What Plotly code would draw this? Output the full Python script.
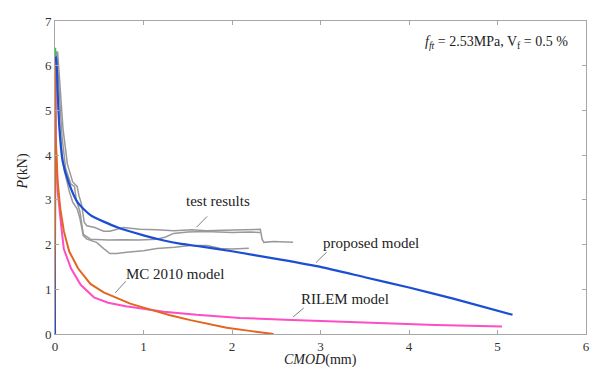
import plotly.graph_objects as go

# ---- data ----
proposed_x = [0.0, 0.0, 0.01, 0.03, 0.05, 0.086, 0.16, 0.26, 0.40, 0.71, 1.01, 1.23, 1.41, 1.64, 2.0, 2.5, 3.0, 3.5, 4.0, 4.5, 5.17]
proposed_y = [0.0, 6.2, 6.2, 5.4, 4.6, 3.87, 3.36, 2.93, 2.66, 2.38, 2.2, 2.09, 2.02, 1.96, 1.85, 1.68, 1.50, 1.27, 1.04, 0.79, 0.43]

mc2010_x = [0.0, 0.0, 0.005, 0.03, 0.06, 0.1, 0.16, 0.26, 0.4, 0.55, 0.7, 0.85, 1.07, 1.3, 1.53, 1.94, 2.2, 2.47]
mc2010_y = [0.0, 6.25, 4.5, 3.4, 2.8, 2.3, 1.85, 1.47, 1.12, 0.93, 0.8, 0.68, 0.55, 0.42, 0.31, 0.14, 0.07, 0.0]

rilem_x = [0.0, 0.0, 0.01, 0.03, 0.07, 0.1, 0.18, 0.29, 0.44, 0.6, 0.8, 1.01, 1.23, 1.6, 2.09, 2.6, 3.22, 3.67, 4.3, 5.05]
rilem_y = [0.0, 6.2, 4.2, 3.2, 2.42, 1.9, 1.47, 1.1, 0.82, 0.7, 0.62, 0.56, 0.5, 0.43, 0.36, 0.32, 0.28, 0.24, 0.2, 0.17]

peak_x = [0.0, 0.0]
peak_y = [6.2, 6.4]

test1_x = [0.0, 0.01, 0.03, 0.06, 0.09, 0.14, 0.2, 0.25, 0.27, 0.3, 0.33, 0.36, 0.45, 0.55, 0.62, 0.77, 0.96, 1.15, 1.34, 1.55, 1.71, 1.9, 2.09, 2.32, 2.34, 2.36, 2.47, 2.6, 2.69]
test1_y = [0.0, 6.3, 6.3, 5.5, 4.6, 3.8, 3.4, 3.3, 3.1, 2.9, 2.5, 2.42, 2.38, 2.3, 2.3, 2.38, 2.34, 2.33, 2.31, 2.33, 2.31, 2.32, 2.33, 2.34, 2.12, 2.05, 2.07, 2.05, 2.05]

test2_x = [0.0, 0.005, 0.02, 0.05, 0.08, 0.12, 0.18, 0.22, 0.24, 0.28, 0.32, 0.4, 0.6, 0.77, 0.95, 1.15, 1.25, 1.34, 1.5, 1.7, 2.0, 2.2, 2.32]
test2_y = [0.0, 6.3, 6.3, 5.3, 4.4, 3.7, 3.35, 3.3, 3.0, 2.75, 2.23, 2.12, 2.1, 2.11, 2.1, 2.12, 2.17, 2.25, 2.28, 2.29, 2.27, 2.28, 2.27]

test3_x = [0.0, 0.005, 0.01, 0.04, 0.07, 0.1, 0.16, 0.2, 0.25, 0.28, 0.32, 0.36, 0.47, 0.55, 0.62, 0.7, 0.81, 1.0, 1.15, 1.35, 1.53, 1.72, 1.87, 2.0, 2.19]
test3_y = [0.0, 6.3, 6.3, 5.0, 4.2, 3.7, 3.2, 2.95, 2.8, 2.6, 2.2, 2.12, 2.05, 1.91, 1.8, 1.8, 1.83, 1.86, 1.91, 1.94, 1.98, 1.98, 1.91, 1.9, 1.92]

x_ticks = [0, 1, 2, 3, 4, 5, 6]
y_ticks = [0, 1, 2, 3, 4, 5, 6, 7]

SERIF = "Liberation Serif, Times New Roman, serif"
GRAY = "#999999"

fig = go.Figure()
for tx, ty in [(test1_x, test1_y), (test2_x, test2_y), (test3_x, test3_y)]:
    fig.add_trace(go.Scatter(x=tx, y=ty, mode="lines",
                             line=dict(color=GRAY, width=1.5), showlegend=False))
fig.add_trace(go.Scatter(x=rilem_x, y=rilem_y, mode="lines",
                         line=dict(color="#ff4dc4", width=2), showlegend=False))
fig.add_trace(go.Scatter(x=mc2010_x, y=mc2010_y, mode="lines",
                         line=dict(color="#e2661e", width=2), showlegend=False))
fig.add_trace(go.Scatter(x=proposed_x, y=proposed_y, mode="lines", line_shape="spline",
                         line=dict(color="#1c4ed4", width=2.2, smoothing=0.6), showlegend=False))
fig.add_trace(go.Scatter(x=peak_x, y=peak_y, mode="lines",
                         line=dict(color="#22cc55", width=2.5), showlegend=False))

# leader lines for labels
leaders = [
    ([1.60, 1.72], [2.39, 2.63]),
    ([2.95, 3.07], [1.60, 1.83]),
    ([2.69, 2.81], [0.38, 0.58]),
    ([0.68, 0.80], [0.92, 1.18]),
]
for lx, ly in leaders:
    fig.add_trace(go.Scatter(x=lx, y=ly, mode="lines",
                             line=dict(color="#7f7f7f", width=1), showlegend=False))

labels = [
    ("test results", 1.84, 2.97),
    ("proposed model", 3.57, 2.04),
    ("RILEM model", 3.28, 0.79),
    ("MC 2010 model", 1.36, 1.34),
]
for txt, ax_, ay_ in labels:
    fig.add_annotation(x=ax_, y=ay_, text=txt, showarrow=False,
                       font=dict(family=SERIF, size=15, color="#222"))

fig.add_annotation(xref="paper", yref="paper", x=0.97, y=0.965, xanchor="right", yanchor="top",
                   text="<i>f</i><sub><i>ft</i></sub> = 2.53MPa, V<sub>f</sub> = 0.5 %",
                   showarrow=False, font=dict(family=SERIF, size=14, color="#222"))

fig.add_annotation(xref="paper", yref="paper", x=0.5, y=-0.05, yanchor="top",
                   text="<i>CMOD</i>(mm)", showarrow=False,
                   font=dict(family=SERIF, size=14, color="#222"))
fig.add_annotation(xref="paper", yref="paper", x=-0.06, y=0.52, xanchor="center",
                   text="<i>P</i>(kN)", textangle=-90, showarrow=False,
                   font=dict(family=SERIF, size=14, color="#222"))

axis_common = dict(showline=True, linecolor="#a6a6a6", linewidth=1, mirror="ticks",
                   ticks="inside", ticklen=4, tickcolor="#a6a6a6", showgrid=False,
                   zeroline=False, ticklabeloverflow="allow",
                   tickfont=dict(family=SERIF, size=13, color="#333"))
fig.update_xaxes(range=[0, 6], tickvals=x_ticks, **axis_common)
fig.update_yaxes(range=[0, 7], tickvals=y_ticks, **axis_common)

# page body has an 8px margin; size and margins compensate for it
fig.update_layout(width=605, height=365, margin=dict(l=47, r=27, t=6, b=39),
                  plot_bgcolor="white", paper_bgcolor="white")

fig.write_html("out.html")
